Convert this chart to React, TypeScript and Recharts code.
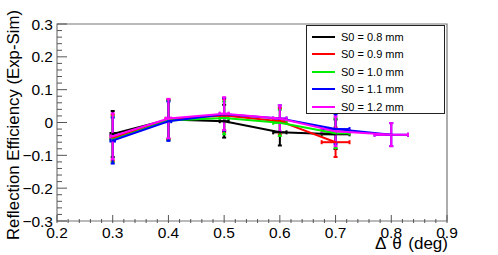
import React from 'react'
import {
  ScatterChart,
  Scatter,
  XAxis,
  YAxis,
  ErrorBar,
  ReferenceArea,
} from 'recharts'

const xMajorTicks = [0.2, 0.3, 0.4, 0.5, 0.6, 0.7, 0.8, 0.9]
const yMajorTicks = [-0.3, -0.2, -0.1, 0, 0.1, 0.2, 0.3]
const yMajorLabels = ['\u22120.3', '\u22120.2', '\u22120.1', '0', '0.1', '0.2', '0.3']

const seriesNames = ['S0 = 0.8 mm', 'S0 = 0.9 mm', 'S0 = 1.0 mm', 'S0 = 1.1 mm', 'S0 = 1.2 mm']
const seriesColors = ['#000000', '#ff0000', '#00ee00', '#0000ff', '#ff00ff']

const angles08 = [0.3, 0.4, 0.5, 0.6, 0.7]
const values08 = [-0.035, 0.009, 0.004, -0.03, -0.036]
const angles09 = [0.3, 0.4, 0.5, 0.6, 0.7]
const values09 = [-0.047, 0.01, 0.021, 0.004, -0.06]
const angles10 = [0.3, 0.4, 0.5, 0.6, 0.7]
const values10 = [-0.052, 0.006, 0.014, -0.001, -0.033]
const angles11 = [0.3, 0.4, 0.5, 0.6, 0.7, 0.8]
const values11 = [-0.055, 0.004, 0.025, 0.012, -0.02, -0.037]
const angles12 = [0.3, 0.4, 0.5, 0.6, 0.7, 0.8]
const values12 = [-0.042, 0.012, 0.027, 0.012, -0.027, -0.037]

// errors by angle point index
const yErrors = [0.07, 0.06, 0.05, 0.04, 0.045, 0.035]
const xErrors = [0.004, 0.005, 0.008, 0.012, 0.025, 0.03]

const allAngles = [angles08, angles09, angles10, angles11, angles12]
const allValues = [values08, values09, values10, values11, values12]

const series = seriesNames.map((name, s) => ({
  name,
  color: seriesColors[s],
  data: allAngles[s].map((x, i) => ({
    x,
    y: allValues[s][i],
    ex: xErrors[i],
    ey: yErrors[i],
  })),
}))

// minor ticks: 5 subdivisions of each major step
const subdivide = (majors: number[]) => {
  const out: number[] = []
  for (let i = 0; i < majors.length - 1; i++) {
    for (let k = 0; k < 5; k++) {
      out.push(Number((majors[i] + ((majors[i + 1] - majors[i]) * k) / 5).toFixed(4)))
    }
  }
  out.push(majors[majors.length - 1])
  return out
}
const xTicks = subdivide(xMajorTicks)
const yTicks = subdivide(yMajorTicks)

const majorIndex = (majors: number[], v: number) =>
  majors.findIndex((m) => Math.abs(m - Number(v)) < 1e-6)

const FONT = '"Liberation Sans", Arial, Helvetica, sans-serif'
const AXIS_COLOR = '#555'

const XTick = (props: any) => {
  const { x, y, payload } = props
  const idx = majorIndex(xMajorTicks, payload.value)
  const major = idx >= 0
  return (
    <g>
      <line x1={x} x2={x} y1={y} y2={y - (major ? 8 : 4)} stroke={AXIS_COLOR} strokeWidth={1} />
      {major && (
        <text x={x} y={y + 15} textAnchor="middle" fontSize={15.5} fontFamily={FONT} fill="#000">
          {xMajorTicks[idx].toFixed(1)}
        </text>
      )}
    </g>
  )
}

const YTick = (props: any) => {
  const { x, y, payload } = props
  const idx = majorIndex(yMajorTicks, payload.value)
  const major = idx >= 0
  return (
    <g>
      <line x1={x + 2} x2={x + 2 + (major ? 10 : 5)} y1={y} y2={y} stroke={AXIS_COLOR} strokeWidth={1} />
      {major && (
        <text x={x - 2} y={y + 5.5} textAnchor="end" fontSize={15.5} fontFamily={FONT} fill="#000">
          {yMajorLabels[idx]}
        </text>
      )}
    </g>
  )
}

const Marker = (props: any) => {
  const { cx, cy, fill } = props
  return <rect x={cx - 1} y={cy - 1} width={2} height={2} fill={fill} />
}

export default function App() {
  return (
    <div style={{ position: 'absolute', left: 0, top: 0, width: 498, height: 255, background: '#fff', fontFamily: FONT }}>
      <ScatterChart width={498} height={255} margin={{ top: 24, right: 51, left: 0, bottom: 0 }}>
        <XAxis
          type="number"
          dataKey="x"
          domain={[0.2, 0.9]}
          ticks={xTicks}
          interval={0}
          height={34}
          tickSize={0}
          tickLine={false}
          axisLine={false}
          tick={<XTick />}
          allowDataOverflow
        />
        <YAxis
          type="number"
          dataKey="y"
          domain={[-0.3, 0.3]}
          ticks={yTicks}
          interval={0}
          width={57}
          tickSize={0}
          tickLine={false}
          axisLine={false}
          tick={<YTick />}
          allowDataOverflow
        />
        <ReferenceArea
          x1={0.2}
          x2={0.9}
          y1={-0.3}
          y2={0.3}
          fill="none"
          stroke="#777"
          strokeWidth={1.2}
          ifOverflow="visible"
        />
        {series.map((s) => (
          <Scatter
            key={s.name}
            name={s.name}
            data={s.data}
            fill={s.color}
            line={{ stroke: s.color, strokeWidth: 2 }}
            lineType="joint"
            shape={<Marker />}
            isAnimationActive={false}
          >
            <ErrorBar dataKey="ey" direction="y" width={2} stroke={s.color} strokeWidth={2} isAnimationActive={false} />
            <ErrorBar dataKey="ex" direction="x" width={2} stroke={s.color} strokeWidth={2} isAnimationActive={false} />
          </Scatter>
        ))}
      </ScatterChart>

      {/* axis titles */}
      <div
        style={{
          position: 'absolute',
          left: 14,
          top: 125,
          transform: 'translate(-50%, -50%) rotate(-90deg)',
          whiteSpace: 'nowrap',
          fontSize: 16.8,
          lineHeight: 1,
          color: '#000',
        }}
      >
        Reflection Efficiency (Exp-Sim)
      </div>
      <div
        style={{
          position: 'absolute',
          right: 50,
          top: 235,
          whiteSpace: 'nowrap',
          fontSize: 17,
          lineHeight: 1,
          wordSpacing: 2,
          color: '#000',
        }}
      >
        {'\u0394 \u03b8 (deg)'}
      </div>

      <div
        style={{
          position: 'absolute',
          left: 306,
          top: 25,
          width: 139,
          height: 89,
          border: '1px solid #222',
          background: '#fff',
          fontSize: 11,
          boxSizing: 'border-box',
          paddingTop: 2,
        }}
      >
        {series.map((s) => (
          <div key={s.name} style={{ display: 'flex', alignItems: 'center', height: 17.5 }}>
            <div style={{ marginLeft: 5, width: 23, height: 2, background: s.color }} />
            <span style={{ marginLeft: 6, color: '#000' }}>{s.name}</span>
          </div>
        ))}
      </div>
    </div>
  )
}
